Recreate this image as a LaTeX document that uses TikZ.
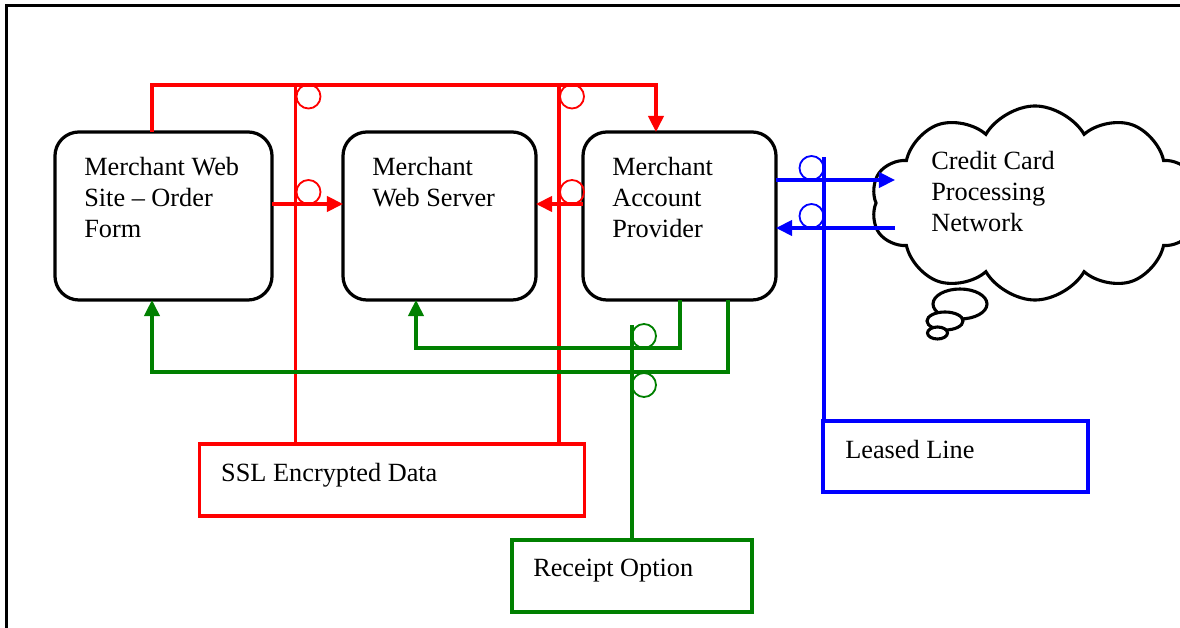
\documentclass[tikz,border=0pt]{standalone}
\usepackage{fontspec}
\setmainfont{Liberation Serif}
\usetikzlibrary{arrows.meta,calc,positioning,shapes.symbols}

\definecolor{lgreen}{RGB}{0,128,0}

\tikzset{
  box/.style={draw, line width=2.3pt, rounded corners=0.6cm, minimum width=4.825cm,
    minimum height=4.2cm, inner sep=0pt, outer sep=0pt},
  tagbox/.style={draw, line width=2.2pt, minimum height=1.8cm, inner sep=0pt, outer sep=0pt},
  txt/.style={font=\fontsize{18.7}{22}\selectfont, align=left, inner sep=0pt, anchor=north west},
  link/.style={line width=2.2pt},
  tip/.style={-{Triangle[length=11.5pt,width=11pt]}},
  hop/.style={line width=1.3pt},
}

\begin{document}
\begin{tikzpicture}[x=0.025cm, y=-0.025cm]
    \useasboundingbox (0,0) rectangle (1180,628);
    \clip (0,0) rectangle (1180,628);

    % 1. Cornice esterna
    \draw[line width=1.6pt] (6.5,5.5) rectangle (1200,650);

    % 2. I tre riquadri del commerciante
    \node[box, minimum width=5.425cm] (sito) at (163.5,216) {};
    \node[box] (server) at (439.5,216) {};
    \node[box] (provider) at (679.5,216) {};
    \node[txt, below right=0.625cm and 0.725cm of sito.north west] (sitotxt) {Merchant Web\\Site – Order\\Form};
    \node[txt, below right=0.625cm and 0.725cm of server.north west] (servertxt) {Merchant\\Web Server};
    \node[txt, below right=0.625cm and 0.725cm of provider.north west] (providertxt) {Merchant\\Account\\Provider};

    % 3. Nuvola della rete delle carte di credito
    \node[cloud, draw, fill=white, line width=2.2pt, cloud puffs=10, cloud puff arc=120,
      minimum width=8.2cm, minimum height=4.85cm, inner sep=0pt] (rete) at (1035,203) {};
    \draw[line width=2.2pt, fill=white] (960,304) ellipse [x radius=27, y radius=15];
    \draw[line width=2.2pt, fill=white] (945,321) ellipse [x radius=18, y radius=9];
    \draw[line width=2.2pt, fill=white] (937.5,333) ellipse [x radius=10, y radius=6];
    \node[txt] (retetxt) at ($(rete.center)+(-104,-52)$) {Credit Card\\Processing\\Network};

    % 4. Riquadri delle legende
    \node[tagbox, red, minimum width=9.6cm] (ssl) at (392,480) {};
    \node[tagbox, lgreen, minimum width=6cm] (ricevuta) at (632,576) {};
    \node[tagbox, blue, minimum width=6.625cm, minimum height=1.775cm] (linea) at (955.5,456.5) {};
    \node[txt, below right=0.475cm and 0.525cm of ssl.north west] (ssltxt) {SSL Encrypted Data};
    \node[txt, below right=0.475cm and 0.525cm of ricevuta.north west] (ricevutatxt) {Receipt Option};
    \node[txt, below right=0.475cm and 0.55cm of linea.north west] (lineatxt) {Leased Line};

    % 5. Collegamenti rossi (dati cifrati SSL)
    \draw[link, red, tip] ($(sito.north west)+(97,0)$) |- ($(provider.north west)+(73,-47)$)
        -- ($(provider.north west)+(73,0)$);
    \draw[link, red, tip] ($(sito.east)+(0,-12)$) -- ($(server.west)+(0,-12)$);
    \draw[link, red, tip] ($(provider.west)+(0,-12)$) -- ($(server.east)+(0,-12)$);
    \draw[link, red] ($(ssl.north west)+(96,0)$) -- ++(0,-359);
    \draw[link, red] ($(ssl.north west)+(359,0)$) -- ++(0,-359);
    \draw[hop, red] (308.5,96.5) circle (12);
    \draw[hop, red] (572,96.5) circle (12);
    \draw[hop, red] (308.5,192) circle (12);
    \draw[hop, red] (572,192) circle (12);

    % 6. Collegamenti verdi (ricevuta)
    \draw[link, lgreen, tip] ($(provider.south west)+(97,0)$) |- ($(server.south west)+(73,48)$)
        -- ($(server.south west)+(73,0)$);
    \draw[link, lgreen, tip] ($(provider.south west)+(145,0)$) |- ($(sito.south west)+(97,72)$)
        -- ($(sito.south west)+(97,0)$);
    \draw[link, lgreen] (ricevuta.north) -- ++(0,-215);
    \draw[hop, lgreen] (644,336) circle (12);
    \draw[hop, lgreen] (644,385) circle (12);

    % 7. Collegamenti blu (linea dedicata)
    \draw[link, blue, tip] ($(provider.east)+(0,-36)$) -- ($(rete.center)+(-140,-23)$);
    \draw[link, blue, tip] ($(rete.center)+(-140,25)$) -- ($(provider.east)+(0,12)$);
    \draw[link, blue] ($(linea.north west)+(1,0)$) -- ++(0,-264);
    \draw[hop, blue] (811.5,168) circle (12);
    \draw[hop, blue] (811.5,216) circle (12);
\end{tikzpicture}
\end{document}
